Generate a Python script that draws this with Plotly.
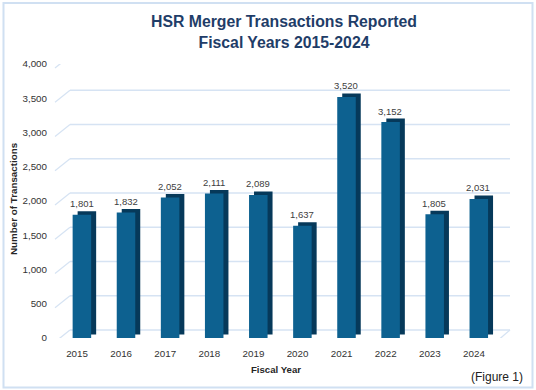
import plotly.graph_objects as go

# ---- data ----
years = ["2015", "2016", "2017", "2018", "2019", "2020", "2021", "2022", "2023", "2024"]
transactions = [1801, 1832, 2052, 2111, 2089, 1637, 3520, 3152, 1805, 2031]
y_tick_values = [0, 500, 1000, 1500, 2000, 2500, 3000, 3500, 4000]
y_tick_labels = ["0", "500", "1,000", "1,500", "2,000", "2,500", "3,000", "3,500", "4,000"]

title_text = "HSR Merger Transactions Reported<br>Fiscal Years 2015-2024"
x_title = "Fiscal Year"
y_title = "Number of Transactions"
figure_note = "(Figure 1)"

# ---- layout geometry (pixels) ----
W, H = 536, 390
ML, MR, MT, MB = 55, 40, 64, 52
PW = W - ML - MR
PH = H - MT - MB

FRONT = "#0D6190"
SIDE = "#06395A"
GRID = "#D6E3F3"
FONT = "Liberation Sans, Arial, sans-serif"

# bar depth in data units (~3.5px)
depth_units = 3.5 * (y_tick_values[-1] - y_tick_values[0]) / PH

fig = go.Figure()

# darker extruded "back" box -> visible as side and top faces
fig.add_trace(go.Bar(
    x=years, y=transactions, base=depth_units,
    offset=0.013, width=0.42,
    marker=dict(color=SIDE, line=dict(width=0)),
    hoverinfo="skip", showlegend=False,
))
# front face
fig.add_trace(go.Bar(
    x=years, y=transactions,
    offset=-0.1, width=0.42,
    marker=dict(color=FRONT, line=dict(width=0)),
    hoverinfo="skip", showlegend=False,
))

shapes = []
# perspective gridlines: back wall line + diagonal to front
for v in y_tick_values:
    shapes.append(dict(type="line", xref="paper", yref="y",
                       xsizemode="pixel", xanchor=0, x0=15, x1=455,
                       ysizemode="pixel", yanchor=v, y0=8, y1=8,
                       line=dict(color=GRID, width=1.3), layer="below"))
    shapes.append(dict(type="line", xref="paper", yref="y",
                       xsizemode="pixel", xanchor=0, x0=0, x1=15,
                       ysizemode="pixel", yanchor=v, y0=-4, y1=8,
                       line=dict(color=GRID, width=1.3), layer="below"))
# floor front edge and right diagonal
shapes.append(dict(type="line", xref="paper", yref="y",
                   xsizemode="pixel", xanchor=0, x0=0, x1=441,
                   ysizemode="pixel", yanchor=0, y0=-4, y1=-4,
                   line=dict(color=GRID, width=1.3), layer="below"))
shapes.append(dict(type="line", xref="paper", yref="y",
                   xsizemode="pixel", xanchor=0, x0=441, x1=455,
                   ysizemode="pixel", yanchor=0, y0=-4, y1=8,
                   line=dict(color=GRID, width=1.3), layer="below"))
# outer border (pixel offsets from the plot's bottom-left corner)
shapes.append(dict(type="rect", xref="paper", yref="paper",
                   xsizemode="pixel", xanchor=0, x0=3.5 - ML, x1=532.5 - ML,
                   ysizemode="pixel", yanchor=0, y0=(MT + PH) - 387.5, y1=(MT + PH) - 3,
                   line=dict(color="#D0E0F2", width=2), layer="above"))

annotations = []
for i, (yr, val) in enumerate(zip(years, transactions)):
    annotations.append(dict(x=i, y=val, xref="x", yref="y", text=f"{val:,}",
                            showarrow=False, xshift=4.5, yshift=11,
                            font=dict(family=FONT, size=9.5, color="#404040")))
annotations.append(dict(text=f"<b>{title_text}</b>", xref="paper", yref="paper",
                        x=(284 - ML) / PW, y=(MT + PH - 11) / PH,
                        xanchor="center", yanchor="top", showarrow=False,
                        font=dict(family=FONT, size=15.8, color="#1F3D68")))
annotations.append(dict(text=f"<b>{x_title}</b>", xref="paper", yref="paper",
                        x=0.5, y=(MT + PH - 369) / PH, yanchor="middle",
                        showarrow=False,
                        font=dict(family=FONT, size=9.6, color="#262626")))
annotations.append(dict(text=f"<b>{y_title}</b>", xref="paper", yref="paper",
                        x=(13 - ML) / PW, y=(MT + PH - 199) / PH, textangle=-90,
                        xanchor="center", yanchor="middle", showarrow=False,
                        font=dict(family=FONT, size=9.8, color="#262626")))
annotations.append(dict(text=figure_note, xref="paper", yref="paper",
                        x=(525 - ML) / PW, y=(MT + PH - 377) / PH,
                        xanchor="right", yanchor="middle", showarrow=False,
                        font=dict(family=FONT, size=12, color="#222222")))

fig.update_layout(
    width=W, height=H,
    margin=dict(l=ML, r=MR, t=MT, b=MB),
    paper_bgcolor="white", plot_bgcolor="white",
    barmode="overlay",
    xaxis=dict(type="category", range=[-0.5, len(years) - 0.5],
               showgrid=False, showline=False, zeroline=False,
               ticks="", ticklabelstandoff=8,
               tickfont=dict(family=FONT, size=9.8, color="#333333")),
    yaxis=dict(range=[y_tick_values[0], y_tick_values[-1]],
               tickvals=y_tick_values, ticktext=y_tick_labels,
               showgrid=False, showline=False, zeroline=False,
               ticks="", ticklabelstandoff=7,
               tickfont=dict(family=FONT, size=9.8, color="#333333")),
    shapes=shapes,
    annotations=annotations,
)

fig.write_html(
    "out.html",
    config={"displayModeBar": False},
    post_script="document.body.style.margin='0';document.body.style.overflow='hidden';",
)
